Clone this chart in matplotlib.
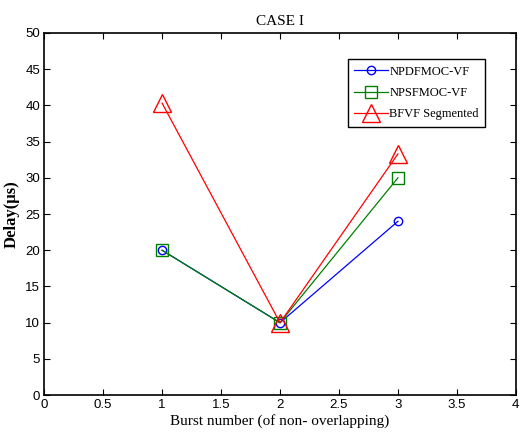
import matplotlib
matplotlib.use("Agg")
import matplotlib.pyplot as plt

burst = [1, 2, 3]
npdfmoc = [20, 10, 24]
npsfmoc = [20, 10, 30]
bfvf = [40.3, 10, 33.3]
labels = ["NPDFMOC-VF", "NPSFMOC-VF", "BFVF Segmented"]

fig = plt.figure(figsize=(5.2, 4.45), dpi=100)
ax = fig.add_axes([0.085, 0.112, 0.907, 0.814])

ax.plot(burst, npdfmoc, color="blue", lw=0.9, marker="o", ms=6, mfc="none", mec="blue", label=labels[0])
ax.plot(burst, npsfmoc, color="green", lw=0.9, marker="s", ms=8, mfc="none", mec="green", label=labels[1])
ax.plot(burst, bfvf, color="red", lw=0.9, marker="^", ms=13, mfc="none", mec="red", label=labels[2])

ax.set_xlim(0, 4)
ax.set_ylim(0, 50)
ax.set_xticks([0, 0.5, 1, 1.5, 2, 2.5, 3, 3.5, 4])
ax.set_xticklabels(["0", "0.5", "1", "1.5", "2", "2.5", "3", "3.5", "4"])
ax.set_yticks(range(0, 51, 5))
ax.tick_params(direction="in", top=True, right=True, length=4, labelsize=9.5, pad=3)
for t in ax.get_xticklabels() + ax.get_yticklabels():
    t.set_family("Liberation Sans")
for s in ax.spines.values():
    s.set_linewidth(1.2)

ax.set_title("CASE I", family="Liberation Serif", fontsize=11, pad=6)
ax.set_xlabel("Burst number (of non- overlapping)", family="Liberation Serif", fontsize=11, labelpad=2)
ax.set_ylabel("Delay(µs)", family="Liberation Serif", fontsize=12, labelpad=4, fontweight="bold")

leg = ax.legend(loc="upper right", bbox_to_anchor=(0.935, 0.927), prop={"family": "Liberation Serif", "size": 9},
                fancybox=False, edgecolor="black", framealpha=1, handlelength=2.7, handletextpad=0.1,
                borderpad=0.5, labelspacing=0.75, borderaxespad=0)
leg.get_frame().set_linewidth(1.0)

fig.savefig("out.png", dpi=100)
